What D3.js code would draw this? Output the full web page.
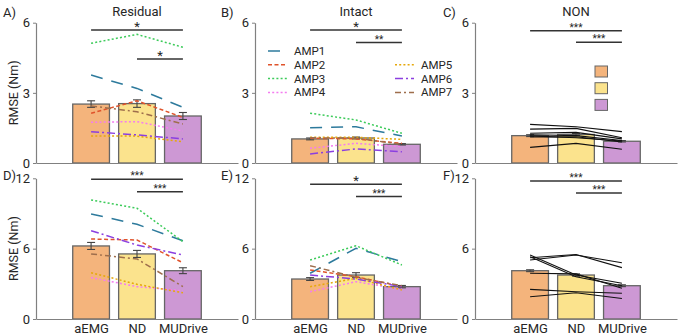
<!DOCTYPE html>
<html>
<head>
<meta charset="utf-8">
<script src="https://cdn.jsdelivr.net/npm/d3@7"></script>
<style>
  body { margin: 0; background: #fff; }
  svg text { font-family: Roboto, "DejaVu Sans", sans-serif; fill: #262626; }
</style>
</head>
<body>
<div id="chart"></div>
<script>
// categories and series
const groups = ["aEMG", "ND", "MUDrive"]
const ampNames = ["AMP1", "AMP2", "AMP3", "AMP4", "AMP5", "AMP6", "AMP7"]
const topTicks = [0, 3, 6]
const bottomTicks = [0, 6, 12]

// A) Residual, RMSE (Nm)
const residualMean = [2.52, 2.54, 2.01]
const residualErr = [0.14, 0.16, 0.15]
const residualAmp = [
  [3.76, 3.19, 2.38],
  [2.13, 2.66, 1.95],
  [5.12, 5.50, 4.95],
  [1.74, 1.77, 1.37],
  [1.15, 1.15, 0.91],
  [1.34, 1.20, 1.03],
  [2.44, 2.19, 1.67]
]
const residualSig = [[0, 2, 5.69, "*"], [1, 2, 4.45, "*"]]

// B) Intact
const intactMean = [1.03, 1.07, 0.80]
const intactErr = [0.04, 0.04, 0.03]
const intactAmp = [
  [1.51, 1.55, 1.15],
  [1.06, 1.03, 0.84],
  [2.13, 1.84, 1.27],
  [0.63, 0.84, 0.70],
  [1.10, 1.10, 1.01],
  [0.39, 0.60, 0.48],
  [1.08, 1.06, 0.80]
]
const intactSig = [[0, 2, 5.69, "*"], [1, 2, 5.15, "**"]]

// C) NON
const nonMean = [1.17, 1.22, 0.93]
const nonErr = [0.04, 0.04, 0.03]
const nonSubj = [
  [1.65, 1.55, 1.34],
  [1.45, 1.48, 1.08],
  [1.27, 1.31, 1.03],
  [1.21, 1.17, 0.96],
  [1.16, 1.08, 0.94],
  [1.11, 1.12, 0.90],
  [0.67, 0.84, 0.59]
]
const nonSig = [[0, 2, 5.66, "***"], [1, 2, 5.16, "***"]]

// D) Residual, second task
const residual2Mean = [6.23, 5.55, 4.12]
const residual2Err = [0.30, 0.30, 0.25]
const residual2Amp = [
  [8.96, 8.08, 6.68],
  [6.82, 6.74, 4.80],
  [10.15, 9.44, 6.60],
  [3.53, 2.76, 2.42],
  [3.95, 2.96, 2.24],
  [7.53, 6.31, 5.46],
  [5.55, 5.12, 2.76]
]
const residual2Sig = [[0, 2, 11.92, "***"], [1, 2, 10.86, "***"]]

// E) Intact, second task
const intact2Mean = [3.41, 3.75, 2.76]
const intact2Err = [0.12, 0.20, 0.10]
const intact2Amp = [
  [3.90, 6.03, 4.89],
  [4.18, 3.61, 2.76],
  [5.03, 6.25, 4.61],
  [2.33, 3.18, 2.53],
  [2.76, 3.47, 2.47],
  [3.75, 3.41, 2.76],
  [4.55, 3.55, 2.84]
]
const intact2Sig = [[0, 2, 11.5, "*"], [1, 2, 10.44, "***"]]

// F) NON, second task
const non2Mean = [4.12, 3.75, 2.84]
const non2Err = [0.08, 0.10, 0.08]
const non2Subj = [
  [5.03, 5.46, 4.80],
  [5.23, 5.50, 4.38],
  [5.46, 3.75, 3.05],
  [5.30, 3.60, 2.84],
  [3.90, 3.85, 2.62],
  [2.53, 2.33, 2.19],
  [1.90, 2.24, 1.75]
]
const non2Sig = [[0, 2, 11.78, "***"], [1, 2, 10.75, "***"]]

// styling
const barColors = ["#f4b47c", "#fbe38d", "#cd98d4"]
const ampColors = ["#2d7a9c", "#e0532b", "#3ccb5a", "#f47cf0", "#e6a80a", "#8b3fe0", "#9e6e4c"]
const ampDash = ["12,9", "4,2.5", "2,2.2", "2,2.2", "2,2.2", "8,3,2,3", "6,3,2,3"]

const W = 680, H = 336
const rows = [{ top: 22.7, bottom: 163 }, { top: 178.3, bottom: 319 }]
const lefts = [36, 255, 475]
const plotW = 202

const panels = [
  { label: "A)", title: "Residual", row: 0, col: 0, yMax: 6, ticks: topTicks, mean: residualMean, err: residualErr, lines: residualAmp, amp: true, sig: residualSig, ylab: true },
  { label: "B)", title: "Intact", row: 0, col: 1, yMax: 6, ticks: topTicks, mean: intactMean, err: intactErr, lines: intactAmp, amp: true, sig: intactSig, legend: true },
  { label: "C)", title: "NON", row: 0, col: 2, yMax: 6, ticks: topTicks, mean: nonMean, err: nonErr, lines: nonSubj, amp: false, sig: nonSig, swatch: true },
  { label: "D)", title: "", row: 1, col: 0, yMax: 12, ticks: bottomTicks, mean: residual2Mean, err: residual2Err, lines: residual2Amp, amp: true, sig: residual2Sig, ylab: true, xlab: true },
  { label: "E)", title: "", row: 1, col: 1, yMax: 12, ticks: bottomTicks, mean: intact2Mean, err: intact2Err, lines: intact2Amp, amp: true, sig: intact2Sig, xlab: true },
  { label: "F)", title: "", row: 1, col: 2, yMax: 12, ticks: bottomTicks, mean: non2Mean, err: non2Err, lines: non2Subj, amp: false, sig: non2Sig, xlab: true }
]

const svg = d3.select("#chart").append("svg")
  .attr("width", W).attr("height", H)
  .style("background", "#fff")

const labelX = [3, 221, 443]

panels.forEach(p => {
  const r = rows[p.row]
  const left = lefts[p.col]
  const x = d3.scaleLinear().domain([-0.2, 4.2]).range([left, left + plotW])
  const y = d3.scaleLinear().domain([0, p.yMax]).range([r.bottom, r.top])
  const g = svg.append("g")
  const barW = x(1.4) - x(0.6)

  // bars
  g.selectAll("rect.bar").data(p.mean).join("rect")
    .attr("class", "bar")
    .attr("x", (d, i) => x(i + 1) - barW / 2)
    .attr("y", d => y(d))
    .attr("width", barW)
    .attr("height", d => y(0) - y(d))
    .attr("fill", (d, i) => barColors[i])
    .attr("stroke", "#666")
    .attr("stroke-width", 1.3)

  // error bars
  p.mean.forEach((m, i) => {
    const cx = x(i + 1), e = p.err[i]
    const eb = g.append("g").attr("stroke", "#444").attr("stroke-width", 1.1)
    eb.append("line").attr("x1", cx).attr("x2", cx).attr("y1", y(m - e)).attr("y2", y(m + e))
    eb.append("line").attr("x1", cx - 4).attr("x2", cx + 4).attr("y1", y(m - e)).attr("y2", y(m - e))
    eb.append("line").attr("x1", cx - 4).attr("x2", cx + 4).attr("y1", y(m + e)).attr("y2", y(m + e))
  })

  // individual lines
  const line = d3.line().x((d, i) => x(i + 1)).y(d => y(d))
  p.lines.forEach((vals, k) => {
    g.append("path")
      .attr("d", line(vals))
      .attr("fill", "none")
      .attr("stroke", p.amp ? ampColors[k] : "#111")
      .attr("stroke-width", p.amp ? 1.5 : 1.1)
      .attr("stroke-dasharray", p.amp ? ampDash[k] : null)
  })

  // axes
  const yAxis = g.append("g")
    .attr("transform", `translate(${left},0)`)
    .call(d3.axisLeft(y).tickValues(p.ticks).tickFormat(d3.format("d"))
      .tickSize(3).tickSizeOuter(0).tickPadding(3))
  const xAxis = g.append("g")
    .attr("transform", `translate(0,${r.bottom})`)
    .call(d3.axisBottom(x).tickValues([1, 2, 3]).tickSize(0).tickPadding(5)
      .tickFormat(d => p.xlab ? groups[d - 1] : ""))
  ;[yAxis, xAxis].forEach(a => {
    a.select(".domain").attr("stroke", "#808080").attr("stroke-width", 1.2)
    a.selectAll(".tick line").attr("stroke", "#808080")
    a.selectAll("text").style("font-size", "13px").attr("fill", "#262626")
  })

  // significance bars
  p.sig.forEach(([a, b, v, stars]) => {
    g.append("line")
      .attr("x1", x(a + 1)).attr("x2", x(b + 1))
      .attr("y1", y(v)).attr("y2", y(v))
      .attr("stroke", "#333").attr("stroke-width", 1.5)
    g.append("text")
      .attr("x", (x(a + 1) + x(b + 1)) / 2)
      .attr("y", y(v) + (stars.length > 1 ? 0 : 1))
      .attr("text-anchor", "middle")
      .style("font-size", stars.length > 1 ? "10px" : "13px")
      .text(stars)
  })

  // titles and panel letters
  if (p.title) {
    svg.append("text")
      .attr("x", x(2)).attr("y", 15.5)
      .attr("text-anchor", "middle")
      .style("font-size", "13px")
      .text(p.title)
  }
  svg.append("text")
    .attr("x", labelX[p.col]).attr("y", p.row === 0 ? 16.5 : 180)
    .style("font-size", "13px")
    .text(p.label)

  if (p.ylab) {
    svg.append("text")
      .attr("transform", `translate(18,${(r.top + r.bottom) / 2}) rotate(-90)`)
      .attr("text-anchor", "middle")
      .style("font-size", "12.5px")
      .text("RMSE (Nm)")
  }

  // AMP legend
  if (p.legend) {
    const lg = svg.append("g")
    ampNames.forEach((name, k) => {
      const colIdx = k < 4 ? 0 : 1
      const rowIdx = k < 4 ? k : k - 3
      const lx = colIdx === 0 ? 268 : 395
      const ly = 51 + rowIdx * 13.8
      lg.append("line")
        .attr("x1", lx).attr("x2", lx + 19).attr("y1", ly).attr("y2", ly)
        .attr("stroke", ampColors[k]).attr("stroke-width", 1.5)
        .attr("stroke-dasharray", ampDash[k])
      lg.append("text")
        .attr("x", lx + 26).attr("y", ly + 4)
        .style("font-size", "11.5px")
        .text(name)
    })
  }

  // colour swatches for the three methods
  if (p.swatch) {
    barColors.forEach((c, i) => {
      svg.append("rect")
        .attr("x", 595).attr("y", 66 + i * 16.7)
        .attr("width", 12.5).attr("height", 11)
        .attr("fill", c).attr("stroke", "#666").attr("stroke-width", 1)
    })
  }
})
</script>
</body>
</html>
